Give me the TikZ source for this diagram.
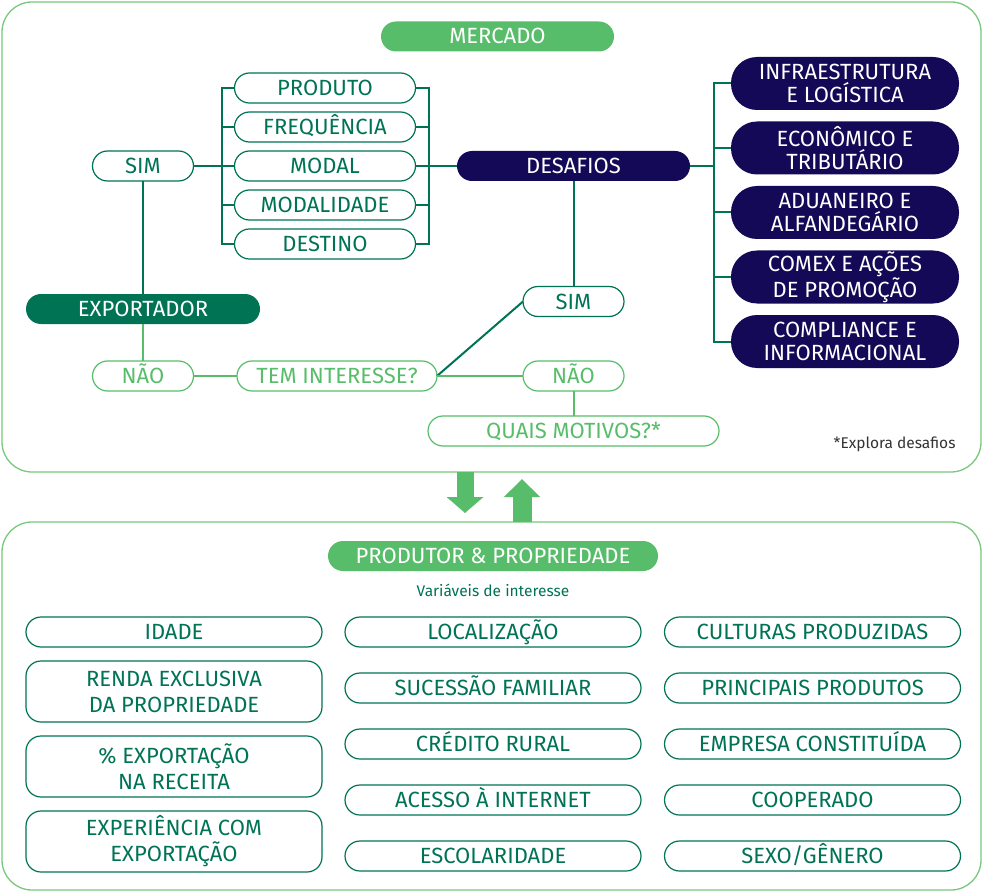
\documentclass[tikz,border=0pt]{standalone}
\usepackage{fontspec}
\setmainfont{Fira Sans}
\usepackage{tikz}
\usetikzlibrary{positioning}
\usetikzlibrary{arrows.meta}
\definecolor{verde}	{rgb}	{	0.3451	,	0.7412	,	0.4157	}
\definecolor{verdeescuro}{rgb}	{	0.0000	,	0.4510	,	0.3333	}
\definecolor{marinho}	{rgb}	{	0.0784	,	0.0353	,	0.3373	}
\definecolor{borda}	{rgb}	{	0.4700	,	0.7900	,	0.4900	}
\definecolor{cinza}	{rgb}	{	0.2000	,	0.2000	,	0.2000	}

\begin{document}
\begin{tikzpicture}[x=1pt, y=-1pt, font=\fontsize{22}{23}\selectfont,
    caixa/.style={draw=verdeescuro, line width=1.2pt, text=verdeescuro, rounded corners=15pt,
      minimum height=30pt, text height=15pt, text depth=0pt, inner sep=0pt, outer sep=0pt},
    clara/.style={caixa, draw=verde, text=verde},
    dupla/.style={draw=verdeescuro, line width=1.2pt, text=verdeescuro, rounded corners=15pt,
      minimum height=61pt, minimum width=296pt, align=center, inner sep=0pt, outer sep=0pt,
      font=\fontsize{22}{26}\selectfont},
    titulo/.style={fill=verde, text=white, rounded corners=15pt, minimum height=30pt,
      text height=15pt, text depth=0pt, inner sep=0pt, outer sep=0pt},
    desafio/.style={fill=marinho, text=white, rounded corners=26pt, minimum height=53pt,
      minimum width=228pt, align=center, inner sep=0pt, outer sep=0pt,
      font=\fontsize{22}{23}\selectfont},
    painel/.style={draw=borda, line width=1.3pt, rounded corners=30pt, inner sep=0pt, outer sep=0pt},
    liga/.style={draw=verdeescuro, line width=2pt},
    ligaclara/.style={draw=verde, line width=2pt}]
  \useasboundingbox (0,0) rectangle (983,896);

  \node (mercadopainel) [painel, minimum width=979pt, minimum height=470pt] at (491.5,237) {};
  \node (produtorpainel) [painel, minimum width=979pt, minimum height=368pt] at (491.5,706) {};

  \node (mercado) [titulo, minimum width=233pt] at (497.5,36.5) {MERCADO};
  \node (sim) [caixa, minimum width=101pt] at (143,166) {SIM};
  \node (produto) [caixa, minimum width=181pt] at (325,88) {PRODUTO};
  \node (frequencia) [caixa, minimum width=181pt, below=9pt of produto] {FREQUÊNCIA};
  \node (modal) [caixa, minimum width=181pt, below=9pt of frequencia] {MODAL};
  \node (modalidade) [caixa, minimum width=181pt, below=9pt of modal] {MODALIDADE};
  \node (destino) [caixa, minimum width=181pt, below=9pt of modalidade] {DESTINO};
  \node (desafios) [titulo, fill=marinho, minimum width=233pt] at (573.5,166) {DESAFIOS};

  \node (infra) [desafio] at (845,83.5) {INFRAESTRUTURA\\E LOGÍSTICA};
  \node (economico) [desafio, below=11.5pt of infra] {ECONÔMICO E\\TRIBUTÁRIO};
  \node (aduaneiro) [desafio, below=11.5pt of economico] {ADUANEIRO E\\ALFANDEGÁRIO};
  \node (comex) [desafio, below=11.5pt of aduaneiro] {COMEX E AÇÕES\\DE PROMOÇÃO};
  \node (compliance) [desafio, below=11.5pt of comex] {COMPLIANCE E\\INFORMACIONAL};
  \coordinate (chavedir) at (714,0);

  \node (exportador) [titulo, fill=verdeescuro, minimum width=234pt] at (143,309) {EXPORTADOR};
  \node (sim2) [caixa, minimum width=101pt] at (573.5,301.5) {SIM};
  \node (nao) [clara, minimum width=101pt] at (143,376) {NÃO};
  \node (tem) [clara, minimum width=200pt] at (337,376) {TEM INTERESSE?};
  \node (nao2) [clara, minimum width=101pt] at (573.5,376) {NÃO};
  \node (quais) [clara, minimum width=291pt] at (573.5,431) {QUAIS MOTIVOS?*};
  \node (nota) [anchor=east, text=cinza, font=\fontsize{15.5}{17}\selectfont] at (959,444) {*Explora desafios};

  \draw[liga] (produto.west) -- ++(-13,0) |- (destino.west);
  \draw[liga] (produto.east) -- ++(13,0) |- (destino.east);
  \foreach \n in {frequencia,modal,modalidade}
    \draw[liga] (\n.west) -- ++(-13,0) (\n.east) -- ++(13,0);
  \draw[liga] (sim) -- (modal);
  \draw[liga] (modal) -- (desafios);
  \draw[liga] (desafios.east) -- (desafios.east -| chavedir);
  \draw[liga] (infra.west) -- (infra.west -| chavedir) |- (compliance.west);
  \foreach \n in {economico,aduaneiro,comex}
    \draw[liga] (\n.west) -- (\n.west -| chavedir);
  \draw[liga] (desafios) -- (sim2);
  \draw[liga] (sim) -- (exportador);
  \draw[ligaclara] (exportador) -- (nao);
  \draw[ligaclara] (nao) -- (tem);
  \draw[liga] (tem.east) -- (sim2.west);
  \draw[ligaclara] (tem.east) -- (nao2.west);
  \draw[ligaclara] (nao2) -- (quais);

  \draw[verde, line width=17pt, -{Triangle[width=36pt, length=16pt]}]
    (mercadopainel.south -| 465,0) -- (465,513);
  \draw[verde, line width=19pt, -{Triangle[width=35pt, length=18pt]}]
    (produtorpainel.north -| 522,0) -- (522,479);

  \node (produtor) [titulo, minimum width=330pt] at (493,556) {PRODUTOR \& PROPRIEDADE};
  \node (variaveis) [text=verdeescuro, font=\fontsize{15.5}{17}\selectfont] at (493,590) {Variáveis de interesse};

  \node (idade) [caixa, minimum width=296pt] at (174,632) {IDADE};
  \node (renda) [dupla, below=14pt of idade] {RENDA EXCLUSIVA\\DA PROPRIEDADE};
  \node (percentual) [dupla, below=14pt of renda] {\% EXPORTAÇÃO\\NA RECEITA};
  \node (experiencia) [dupla, below=14pt of percentual] {EXPERIÊNCIA COM\\EXPORTAÇÃO};

  \node (localizacao) [caixa, minimum width=296pt, right=23pt of idade] {LOCALIZAÇÃO};
  \node (sucessao) [caixa, minimum width=296pt, below=26pt of localizacao] {SUCESSÃO FAMILIAR};
  \node (credito) [caixa, minimum width=296pt, below=26pt of sucessao] {CRÉDITO RURAL};
  \node (internet) [caixa, minimum width=296pt, below=26pt of credito] {ACESSO À INTERNET};
  \node (escolaridade) [caixa, minimum width=296pt, below=26pt of internet] {ESCOLARIDADE};

  \node (culturas) [caixa, minimum width=296pt, right=23.5pt of localizacao] {CULTURAS PRODUZIDAS};
  \node (principais) [caixa, minimum width=296pt, below=26pt of culturas] {PRINCIPAIS PRODUTOS};
  \node (empresa) [caixa, minimum width=296pt, below=26pt of principais] {EMPRESA CONSTITUÍDA};
  \node (cooperado) [caixa, minimum width=296pt, below=26pt of empresa] {COOPERADO};
  \node (sexo) [caixa, minimum width=296pt, below=26pt of cooperado] {SEXO/GÊNERO};
\end{tikzpicture}
\end{document}
